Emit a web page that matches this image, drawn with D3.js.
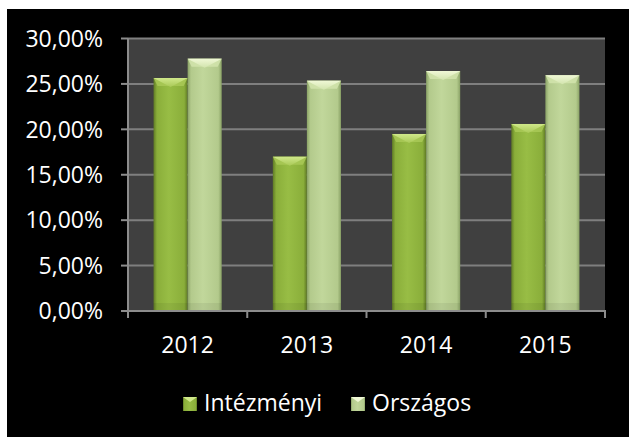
<!DOCTYPE html>
<html><head><meta charset="utf-8">
<script src="https://cdn.jsdelivr.net/npm/d3@7"></script>
<style>html,body{margin:0;padding:0;background:#fff;}svg{display:block;}</style>
</head><body>
<svg id="c" width="629" height="437"></svg>
<script>
const categories = ["2012", "2013", "2014", "2015"];
const seriesNames = ["Intézményi", "Országos"];
const intezmenyi = [25.65, 16.99, 19.49, 20.59];
const orszagos = [27.78, 25.36, 26.42, 25.95];
const yTicks = [0, 5, 10, 15, 20, 25, 30];
const yTickLabels = ["0,00%", "5,00%", "10,00%", "15,00%", "20,00%", "25,00%", "30,00%"];

const svg = d3.select("#c");
const FONT = "'Open Sans', sans-serif";
const FS = 23;
const m = {left: 128, right: 605, top: 38.5, bottom: 311};

svg.append("rect").attr("x", 7).attr("y", 9).attr("width", 622).attr("height", 428).attr("fill", "#000");

const x = d3.scaleBand().domain(categories).range([m.left, m.right]).paddingInner(0).paddingOuter(0);
const y = d3.scaleLinear().domain([0, 30]).range([m.bottom, m.top]);

svg.append("rect").attr("x", m.left).attr("y", m.top).attr("width", m.right - m.left)
  .attr("height", m.bottom - m.top).attr("fill", "#404040");

const defs = svg.append("defs");
const pal = [
  {id: "g0", edge: "#5f7a25", mid: "#8aae3a", light: "#98bd45", top: "#d0e88a", topEdge: "#a9c957"},
  {id: "g1", edge: "#8aa266", mid: "#b3ca8c", light: "#c1d79b", top: "#f0f8d6", topEdge: "#d2e4ad"}
];
pal.forEach(p => {
  const g = defs.append("linearGradient").attr("id", p.id).attr("x1", 0).attr("x2", 1).attr("y1", 0).attr("y2", 0);
  g.append("stop").attr("offset", "0%").attr("stop-color", p.edge);
  g.append("stop").attr("offset", "10%").attr("stop-color", p.mid);
  g.append("stop").attr("offset", "45%").attr("stop-color", p.light);
  g.append("stop").attr("offset", "90%").attr("stop-color", p.mid);
  g.append("stop").attr("offset", "100%").attr("stop-color", p.edge);
  const gt = defs.append("linearGradient").attr("id", p.id + "t").attr("x1", 0).attr("x2", 0).attr("y1", 0).attr("y2", 1);
  gt.append("stop").attr("offset", "0%").attr("stop-color", p.top);
  gt.append("stop").attr("offset", "100%").attr("stop-color", p.topEdge);
});

// gridlines
svg.append("g").selectAll("line").data(yTicks.filter(d => d > 0)).join("line")
  .attr("x1", m.left).attr("x2", m.right).attr("y1", d => y(d)).attr("y2", d => y(d))
  .attr("stroke", "#7f7f7f").attr("stroke-width", 2);

// bars
const x1 = d3.scaleBand().domain([0, 1]).range([0, x.bandwidth()]).paddingOuter(0.75).paddingInner(0);
const data = [intezmenyi, orszagos];
const bw = x1.bandwidth();
const bars = svg.append("g");
data.forEach((vals, si) => {
  const p = pal[si];
  vals.forEach((v, ci) => {
    const bx = x(categories[ci]) + x1(si);
    const by = y(v);
    const bh = y(0) - by;
    const g = bars.append("g");
    g.append("rect").attr("x", bx).attr("y", by).attr("width", bw).attr("height", bh).attr("fill", `url(#${p.id})`);
    const th = 8;
    g.append("path").attr("d", `M${bx},${by}L${bx + bw},${by}L${bx + bw - 4},${by + th}L${bx + 4},${by + th}Z`)
      .attr("fill", p.topEdge).attr("opacity", 0.85);
    g.append("path").attr("d", `M${bx},${by}L${bx + bw},${by}L${bx + bw / 2},${by + th + 1}Z`)
      .attr("fill", `url(#${p.id}t)`);
    g.append("rect").attr("x", bx).attr("y", y(0) - 8).attr("width", bw).attr("height", 8)
      .attr("fill", "#000").attr("opacity", 0.06);
  });
});

// axes lines
const ax = svg.append("g").attr("stroke", "#8c8c8c").attr("stroke-width", 2);
ax.append("line").attr("x1", m.left).attr("x2", m.left).attr("y1", m.top).attr("y2", m.bottom);
ax.append("line").attr("x1", m.left - 7).attr("x2", m.right + 1).attr("y1", m.bottom).attr("y2", m.bottom);
ax.selectAll(".yt").data(yTicks).join("line").attr("class", "yt")
  .attr("x1", m.left - 7).attr("x2", m.left).attr("y1", d => y(d)).attr("y2", d => y(d));
const bounds = categories.map(c => x(c)).concat([m.right]);
ax.selectAll(".xt").data(bounds).join("line").attr("class", "xt")
  .attr("x1", d => d).attr("x2", d => d).attr("y1", m.bottom).attr("y2", m.bottom + 7);

// y labels
svg.append("g").selectAll("text").data(yTicks).join("text")
  .attr("x", 103).attr("y", d => y(d)).attr("dy", "0.36em").attr("text-anchor", "end")
  .attr("fill", "#fff").attr("font-family", FONT).attr("font-size", FS)
  .text((d, i) => yTickLabels[i]);

// x labels
svg.append("g").selectAll("text").data(categories).join("text")
  .attr("x", d => x(d) + x.bandwidth() / 2).attr("y", 353).attr("text-anchor", "middle")
  .attr("fill", "#fff").attr("font-family", FONT).attr("font-size", FS).text(d => d);

// legend
const legX = [183, 351];
seriesNames.forEach((n, i) => {
  const p = pal[i];
  const g = svg.append("g");
  const lx = legX[i], ly = 397, s = 14;
  g.append("rect").attr("x", lx).attr("y", ly).attr("width", s).attr("height", s).attr("fill", `url(#${p.id})`);
  g.append("path").attr("d", `M${lx},${ly}L${lx + s},${ly}L${lx + s / 2},${ly + 5}Z`).attr("fill", p.top);
  g.append("text").attr("x", lx + s + 7).attr("y", 411).attr("fill", "#fff")
    .attr("font-family", FONT).attr("font-size", FS).text(n);
});
</script>
</body></html>
